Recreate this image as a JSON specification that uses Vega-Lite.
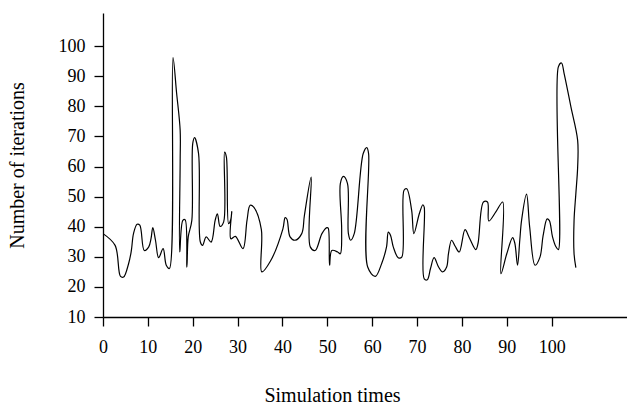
{
  "$schema": "https://vega.github.io/schema/vega-lite/v6.json",
  "width": 524,
  "height": 304,
  "autosize": "none",
  "padding": {"left": 103, "top": 13, "right": 0, "bottom": 87},
  "background": "white",
  "config": {
    "view": {"stroke": null},
    "font": "serif",
    "axis": {
      "labelFont": "'Liberation Serif', 'Times New Roman', 'DejaVu Serif', serif",
      "titleFont": "'Liberation Serif', 'Times New Roman', 'DejaVu Serif', serif",
      "labelFontSize": 18,
      "titleFontSize": 20,
      "titleFontWeight": "normal",
      "labelColor": "#000",
      "titleColor": "#000",
      "domainColor": "#000",
      "tickColor": "#000",
      "domainWidth": 1.3,
      "tickWidth": 1.3,
      "tickSize": 9,
      "grid": false
    }
  },
  "data": {
    "values": [
      {"i": 0, "x": 0, "y": 37.7},
      {"i": 1, "x": 2.7, "y": 33.8},
      {"i": 2, "x": 3.9, "y": 23.5},
      {"i": 3, "x": 4.6, "y": 23.3},
      {"i": 4, "x": 5.7, "y": 27.7},
      {"i": 5, "x": 6.2, "y": 31},
      {"i": 6, "x": 6.4, "y": 33},
      {"i": 7, "x": 6.8, "y": 37.7},
      {"i": 8, "x": 7.6, "y": 40.8},
      {"i": 9, "x": 8.2, "y": 40.5},
      {"i": 10, "x": 9.2, "y": 32.1},
      {"i": 11, "x": 10.2, "y": 33.3},
      {"i": 12, "x": 10.7, "y": 36},
      {"i": 13, "x": 11.1, "y": 39.7},
      {"i": 14, "x": 11.7, "y": 35.5},
      {"i": 15, "x": 12.4, "y": 29.7},
      {"i": 16, "x": 13.4, "y": 32.7},
      {"i": 17, "x": 14.1, "y": 27.2},
      {"i": 18, "x": 14.8, "y": 26.1},
      {"i": 19, "x": 15.6, "y": 96.2},
      {"i": 19.5, "x": 16.4, "y": 84.5},
      {"i": 20, "x": 17.2, "y": 72},
      {"i": 21, "x": 17.2, "y": 62},
      {"i": 22, "x": 17.1, "y": 31.6},
      {"i": 23, "x": 17.8, "y": 42.1},
      {"i": 24, "x": 18.3, "y": 42.3},
      {"i": 25, "x": 18.7, "y": 26.6},
      {"i": 26, "x": 19.0, "y": 36.6},
      {"i": 27, "x": 19.8, "y": 42.1},
      {"i": 28, "x": 20.0, "y": 67.6},
      {"i": 29, "x": 20.4, "y": 69.6},
      {"i": 30, "x": 21.3, "y": 64.3},
      {"i": 31, "x": 21.7, "y": 34.9},
      {"i": 32, "x": 22.2, "y": 33.8},
      {"i": 33, "x": 23.0, "y": 36.6},
      {"i": 34, "x": 24.1, "y": 34.9},
      {"i": 35, "x": 25.0, "y": 42.1},
      {"i": 36, "x": 25.5, "y": 44.3},
      {"i": 37, "x": 26.1, "y": 40.1},
      {"i": 38, "x": 26.9, "y": 41.6},
      {"i": 39, "x": 27.1, "y": 64.8},
      {"i": 40, "x": 27.5, "y": 63.2},
      {"i": 41, "x": 28.0, "y": 41},
      {"i": 42, "x": 28.5, "y": 42.5},
      {"i": 43, "x": 28.7, "y": 45},
      {"i": 44, "x": 28.5, "y": 36},
      {"i": 45, "x": 29.5, "y": 36.8},
      {"i": 46, "x": 31.2, "y": 32.7},
      {"i": 47, "x": 32.1, "y": 42.1},
      {"i": 48, "x": 32.8, "y": 47.1},
      {"i": 49, "x": 33.6, "y": 46.5},
      {"i": 50, "x": 35.3, "y": 39},
      {"i": 51, "x": 35.4, "y": 25},
      {"i": 52, "x": 37.3, "y": 28.5},
      {"i": 53, "x": 40.1, "y": 39.3},
      {"i": 54, "x": 40.6, "y": 43},
      {"i": 55, "x": 41.0, "y": 42.5},
      {"i": 56, "x": 41.7, "y": 36.6},
      {"i": 57, "x": 42.8, "y": 35.5},
      {"i": 58, "x": 44.3, "y": 37.7},
      {"i": 59, "x": 44.9, "y": 43.8},
      {"i": 60, "x": 46.4, "y": 56.5},
      {"i": 61, "x": 46.2, "y": 33.3},
      {"i": 62, "x": 47.3, "y": 32.1},
      {"i": 63, "x": 48.8, "y": 37.7},
      {"i": 64, "x": 49.9, "y": 39.7},
      {"i": 65, "x": 50.2, "y": 39.5},
      {"i": 66, "x": 50.5, "y": 27.2},
      {"i": 67, "x": 51.0, "y": 32.1},
      {"i": 68, "x": 52.3, "y": 31.6},
      {"i": 69, "x": 52.9, "y": 31},
      {"i": 70, "x": 53.2, "y": 38.8},
      {"i": 71, "x": 52.9, "y": 54.3},
      {"i": 72, "x": 53.6, "y": 56.7},
      {"i": 73, "x": 54.5, "y": 54.3},
      {"i": 74, "x": 54.7, "y": 37.7},
      {"i": 75, "x": 55.2, "y": 35.5},
      {"i": 76, "x": 56.0, "y": 37.7},
      {"i": 77, "x": 58.0, "y": 64.3},
      {"i": 78, "x": 58.8, "y": 66.3},
      {"i": 79, "x": 59.2, "y": 64.3},
      {"i": 80, "x": 59.0, "y": 26.6},
      {"i": 81, "x": 60.7, "y": 23.5},
      {"i": 82, "x": 62.1, "y": 27.7},
      {"i": 83, "x": 63.2, "y": 33.3},
      {"i": 84, "x": 63.6, "y": 38.2},
      {"i": 85, "x": 64.1, "y": 37.1},
      {"i": 86, "x": 64.7, "y": 33.3},
      {"i": 87, "x": 65.8, "y": 29.7},
      {"i": 88, "x": 66.6, "y": 29.9},
      {"i": 89, "x": 67.1, "y": 52.1},
      {"i": 90, "x": 67.7, "y": 52.6},
      {"i": 91, "x": 68.8, "y": 45.4},
      {"i": 92, "x": 69.3, "y": 37.7},
      {"i": 93, "x": 70.5, "y": 44.3},
      {"i": 94, "x": 71.3, "y": 47.3},
      {"i": 95, "x": 71.6, "y": 46.5},
      {"i": 96, "x": 71.6, "y": 22.7},
      {"i": 97, "x": 72.3, "y": 22.4},
      {"i": 98, "x": 73.0, "y": 26.1},
      {"i": 99, "x": 73.8, "y": 29.7},
      {"i": 100, "x": 74.8, "y": 26.6},
      {"i": 101, "x": 75.7, "y": 25},
      {"i": 102, "x": 76.6, "y": 26.6},
      {"i": 103, "x": 77.0, "y": 31},
      {"i": 104, "x": 77.7, "y": 35.5},
      {"i": 105, "x": 78.5, "y": 33.5},
      {"i": 106, "x": 79.4, "y": 31.6},
      {"i": 107, "x": 80.7, "y": 39},
      {"i": 108, "x": 81.6, "y": 36.5},
      {"i": 109, "x": 83.1, "y": 32.4},
      {"i": 110, "x": 83.6, "y": 34.5},
      {"i": 111, "x": 84.8, "y": 48.2},
      {"i": 112, "x": 85.7, "y": 48.2},
      {"i": 113, "x": 86.0, "y": 41.9},
      {"i": 113.5, "x": 87.6, "y": 45},
      {"i": 114, "x": 89.1, "y": 48.2},
      {"i": 115, "x": 88.7, "y": 24.4},
      {"i": 116, "x": 90.0, "y": 31},
      {"i": 117, "x": 91.3, "y": 36.4},
      {"i": 118, "x": 91.8, "y": 34.5},
      {"i": 119, "x": 92.4, "y": 27.2},
      {"i": 120, "x": 92.9, "y": 35.5},
      {"i": 121, "x": 93.3, "y": 42.1},
      {"i": 122, "x": 94.4, "y": 50.8},
      {"i": 123, "x": 95.1, "y": 40},
      {"i": 124, "x": 96.3, "y": 27.2},
      {"i": 125, "x": 97.4, "y": 29.9},
      {"i": 126, "x": 98.1, "y": 37},
      {"i": 127, "x": 99.0, "y": 42.6},
      {"i": 128, "x": 99.5, "y": 42},
      {"i": 129, "x": 100.2, "y": 36.6},
      {"i": 130, "x": 100.9, "y": 33.5},
      {"i": 131, "x": 101.5, "y": 32.4},
      {"i": 132, "x": 101.5, "y": 93.1},
      {"i": 133, "x": 102.2, "y": 94.4},
      {"i": 134, "x": 102.8, "y": 90.8},
      {"i": 134.5, "x": 104.3, "y": 79.8},
      {"i": 135, "x": 105.8, "y": 68.7},
      {"i": 136, "x": 105.8, "y": 59.8},
      {"i": 137, "x": 105.4, "y": 51},
      {"i": 138, "x": 105.0, "y": 42.1},
      {"i": 139, "x": 105.0, "y": 31},
      {"i": 140, "x": 105.4, "y": 26.4}
    ]
  },
  "mark": {"type": "line", "color": "#000", "strokeWidth": 1.2, "interpolate": "catmull-rom", "clip": true},
  "encoding": {
    "order": {"field": "i", "type": "quantitative"},
    "x": {
      "field": "x",
      "type": "quantitative",
      "scale": {"domain": [0, 116.8], "nice": false, "zero": false},
      "axis": {
        "title": "Simulation times",
        "values": [0, 10, 20, 30, 40, 50, 60, 70, 80, 90, 100],
        "labelPadding": 12,
        "labelFlush": false,
        "labelOverlap": false,
        "titleX": 229,
        "titleY": 84,
        "titleBaseline": "alphabetic",
        "titleAnchor": "middle"
      }
    },
    "y": {
      "field": "y",
      "type": "quantitative",
      "scale": {"domain": [10, 111], "nice": false, "zero": false},
      "axis": {
        "title": "Number of iterations",
        "values": [10, 20, 30, 40, 50, 60, 70, 80, 90, 100],
        "labelPadding": 9,
        "labelFlush": false,
        "labelOverlap": false,
        "titleX": -86,
        "titleBaseline": "middle"
      }
    }
  }
}
